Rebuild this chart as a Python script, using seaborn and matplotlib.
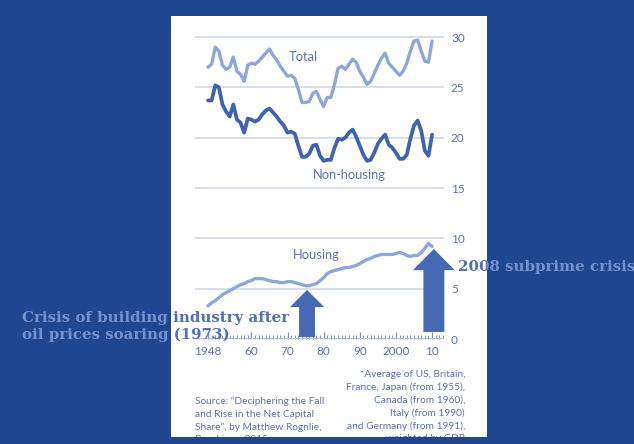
import matplotlib
matplotlib.use("Agg")
import matplotlib.pyplot as plt
import seaborn as sns
from matplotlib.patches import Rectangle, FancyArrow
from matplotlib.transforms import Bbox, TransformedBbox
from matplotlib.ticker import FixedLocator

# ---------------- data ----------------
years = list(range(1948, 2011))
total = [
    27.0, 27.3, 29.0, 28.6, 27.2, 26.8, 27.0, 28.0, 26.6, 26.3,
    25.6, 27.2, 27.4, 27.3, 27.6, 28.0, 28.4, 28.8, 28.2, 27.7,
    27.1, 26.6, 26.1, 26.2, 25.9, 24.8, 23.5, 23.5, 23.6, 24.4,
    24.6, 23.8, 23.1, 24.0, 24.0, 25.3, 26.9, 27.1, 26.8, 27.3,
    27.8, 27.5, 26.6, 26.0, 25.3, 25.6, 26.4, 27.2, 27.9, 28.4,
    27.4, 27.0, 26.6, 26.2, 26.6, 27.4, 28.6, 29.6, 29.7, 28.6,
    27.6, 27.5, 29.6]
non_housing = [
    23.7, 23.7, 25.2, 25.0, 23.3, 22.6, 22.1, 23.3, 21.8, 21.5,
    20.5, 21.9, 21.8, 21.6, 21.8, 22.3, 22.7, 22.9, 22.5, 22.1,
    21.6, 21.2, 20.5, 20.6, 20.4, 19.2, 18.1, 18.1, 18.4, 19.2,
    19.3, 18.2, 17.7, 17.8, 17.8, 19.0, 19.9, 19.8, 20.0, 20.5,
    20.8, 20.1, 19.2, 18.3, 17.7, 17.8, 18.5, 19.4, 19.9, 20.3,
    19.3, 19.0, 18.5, 17.9, 17.9, 18.3, 19.9, 21.2, 21.7, 20.7,
    18.7, 18.2, 20.3]
housing = [
    3.3, 3.6, 3.8, 4.1, 4.4, 4.6, 4.8, 5.0, 5.2, 5.4,
    5.5, 5.7, 5.8, 6.0, 6.0, 6.0, 5.9, 5.8, 5.7, 5.7,
    5.6, 5.6, 5.7, 5.7, 5.6, 5.5, 5.4, 5.3, 5.3, 5.4,
    5.5, 5.8, 6.1, 6.5, 6.7, 6.8, 6.9, 7.0, 7.1, 7.1,
    7.2, 7.3, 7.5, 7.7, 7.9, 8.0, 8.2, 8.3, 8.4, 8.4,
    8.4, 8.4, 8.5, 8.6, 8.5, 8.3, 8.2, 8.3, 8.3, 8.6,
    9.0, 9.5, 9.2]

x_tick_positions = [1948, 1960, 1970, 1980, 1990, 2000, 2010]
x_tick_labels = ["1948", "60", "70", "80", "90", "2000", "10"]
y_ticks = [0, 5, 10, 15, 20, 25, 30]

series_names = ["Total", "Non-housing", "Housing"]

annotation_left = ["Crisis of building industry after", "oil prices soaring (1973)"]
annotation_right = "2008 subprime crisis"

source_lines = ["Source: \u201cDeciphering the Fall", "and Rise in the Net Capital",
                "Share\u201d, by Matthew Rognlie,", "Brookings, 2015"]
note_lines = ["*Average of US, Britain,", "France, Japan (from 1955),",
              "Canada (from 1960),", "Italy (from 1990)",
              "and Germany (from 1991),", "weighted by GDP"]

# ---------------- style ----------------
BG = "#1e4691"
LIGHT = "#8ea7d8"
DARK = "#3f63b0"
GRID = "#cbd4ea"
ZERO = "#a6b7df"
TXT = "#5a74b6"
TICK = "#7a93cd"
ARROW = "#4768b3"
ANN_BLUE = "#7890cc"
ANN_WHITE = "#5370b3"

sns.set_theme(style="white")
plt.rcParams["font.family"] = ["Lato", "DejaVu Sans"]

W, H = 634, 444
fig = plt.figure(figsize=(W / 100, H / 100), dpi=100, facecolor=BG)

def fig_bbox(x0, y0, x1, y1):
    """pixel coords (top-left origin) -> figure bbox"""
    return TransformedBbox(Bbox.from_extents(x0 / W, 1 - y1 / H, x1 / W, 1 - y0 / H),
                           fig.transFigure)

PANEL = (171, 16.5, 487, 436.7)
fig.patches.append(Rectangle((PANEL[0] / W, 1 - PANEL[3] / H),
                             (PANEL[2] - PANEL[0]) / W, (PANEL[3] - PANEL[1]) / H,
                             transform=fig.transFigure, facecolor="white",
                             edgecolor="none", zorder=-5))

# axes: x 195..444 px, y 32..339 px
ax = fig.add_axes([195 / W, (H - 339) / H, (444 - 195) / W, (339 - 32) / H])
ax.set_facecolor("none")
ax.set_xlim(1944.4, 2013.3)
ax.set_ylim(0, 30.5)

sns.lineplot(x=years, y=total, ax=ax, color=LIGHT, linewidth=2.4, zorder=3)
sns.lineplot(x=years, y=non_housing, ax=ax, color=DARK, linewidth=2.7, zorder=3)
sns.lineplot(x=years, y=housing, ax=ax, color=LIGHT, linewidth=2.4, zorder=3)
for ln in ax.lines:
    ln.set_solid_capstyle("round")
    ln.set_solid_joinstyle("round")

for sp in ax.spines.values():
    sp.set_visible(False)

ax.set_yticks(y_ticks)
ax.yaxis.tick_right()
ax.yaxis.grid(True, color=GRID, linewidth=1.1)
ax.set_axisbelow(True)
ax.axhline(0, color=ZERO, linewidth=1.2, zorder=2)
ax.tick_params(axis="y", length=0, pad=5, labelsize=8.5, labelcolor=TXT)

ax.set_xticks(x_tick_positions, labels=x_tick_labels)
ax.xaxis.set_minor_locator(FixedLocator(list(range(1948, 2014))))
ax.tick_params(axis="x", which="both", bottom=True, top=False)
ax.tick_params(axis="x", which="major", direction="in", length=4.8, width=0.9,
               color=TICK, pad=5, labelsize=8.5, labelcolor=TXT)
ax.tick_params(axis="x", which="minor", direction="in", length=3.0, width=0.7,
               color=TICK)
ax.set_xlabel("")
ax.set_ylabel("")

# series labels
label_pos = {"Total": (1974.4, 28.0), "Non-housing": (1987.0, 16.3), "Housing": (1978.0, 8.3)}
for name in series_names:
    x, y = label_pos[name]
    ax.text(x, y, name, ha="center", va="center", color=TXT, fontsize=9.3, zorder=5)

# arrows
ax.add_patch(FancyArrow(1975.4, 0.2, 0, 4.87 - 0.2, width=4.4, head_width=9.5,
                        head_length=1.7, length_includes_head=True, color=ARROW,
                        clip_on=False, zorder=4, linewidth=0))
ax.add_patch(FancyArrow(2010.5, 0.7, 0, 8.94 - 0.7, width=5.8, head_width=11.6,
                        head_length=2.1, length_includes_head=True, color=ARROW,
                        clip_on=False, zorder=4, linewidth=0))

# annotations, two-tone (clipped by region)
panel_box = fig_bbox(*PANEL)
left_box = fig_bbox(0, 0, PANEL[0], H)
right_box = fig_bbox(PANEL[2], 0, W, H)

def two_tone(x, y, s, size):
    for col, box in ((ANN_BLUE, left_box), (ANN_BLUE, right_box), (ANN_WHITE, panel_box)):
        t = fig.text(x / W, 1 - y / H, s, ha="left", va="baseline", color=col,
                     fontsize=size, fontweight="bold", family=["DejaVu Serif"], zorder=10)
        t.set_clip_on(True)
        t.set_clip_box(box)

ANN_SIZE = 10.8
two_tone(22, 322, annotation_left[0], ANN_SIZE)
two_tone(22, 339, annotation_left[1], ANN_SIZE)
two_tone(458, 271, annotation_right, ANN_SIZE)

# footer texts
src_y = [401.7, 414.3, 426.8, 439.2]
for s, y in zip(source_lines, src_y):
    t = fig.text(195 / W, 1 - y / H, s, ha="left", va="center", color=TXT, fontsize=7.3)
    t.set_clip_on(True)
    t.set_clip_box(panel_box)
note_y = [374.3, 387.3, 400.5, 413.0, 426.0, 438.8]
for s, y in zip(note_lines, note_y):
    t = fig.text(465 / W, 1 - y / H, s, ha="right", va="center", color=TXT, fontsize=7.3)
    t.set_clip_on(True)
    t.set_clip_box(panel_box)

fig.savefig("out.png", dpi=100, facecolor=BG)
